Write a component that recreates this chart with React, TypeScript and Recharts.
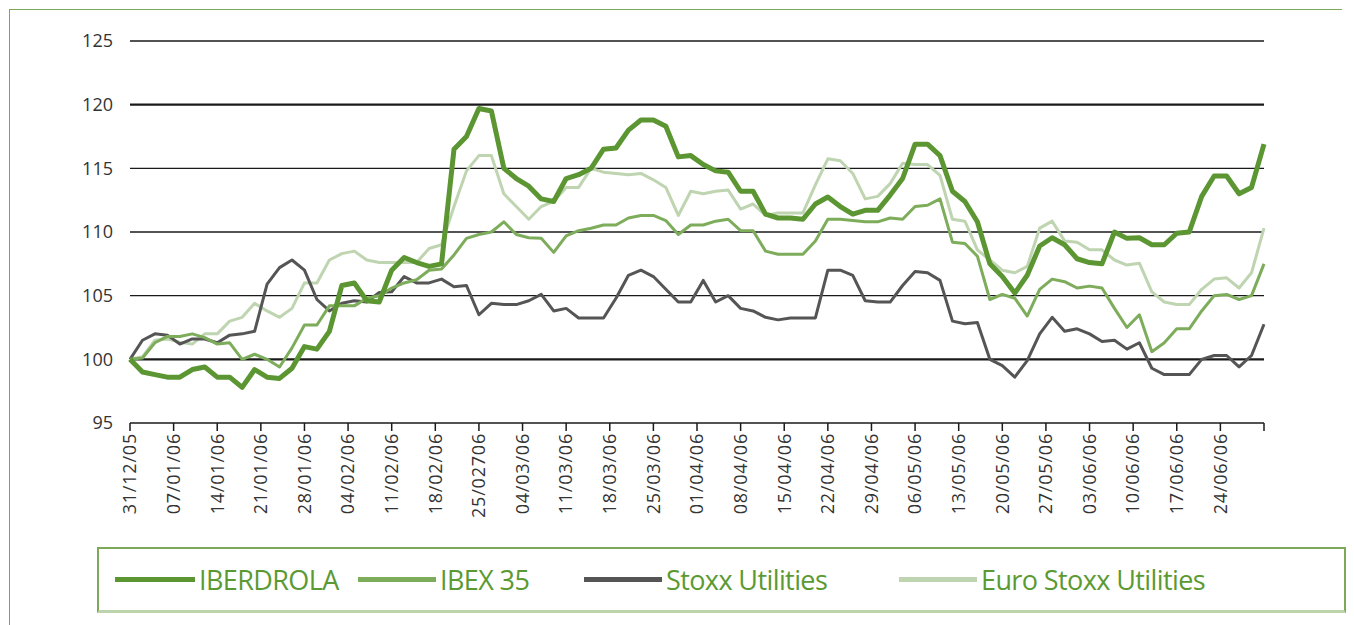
import React from 'react'
import { LineChart, Line, XAxis, YAxis, ReferenceLine } from 'recharts'

// ── Data (index 31/12/05 = 100), one value every 2 calendar days ─────────

const DAYS = [
  0, 2, 4, 6, 8, 10, 12, 14, 16, 18, 20, 22, 24, 26, 28, 30, 32, 34, 36, 38,
  40, 42, 44, 46, 48, 50, 52, 54, 56, 58, 60, 62, 64, 66, 68, 70, 72, 74, 76, 78,
  80, 82, 84, 86, 88, 90, 92, 94, 96, 98, 100, 102, 104, 106, 108, 110, 112, 114, 116, 118,
  120, 122, 124, 126, 128, 130, 132, 134, 136, 138, 140, 142, 144, 146, 148, 150, 152, 154, 156, 158,
  160, 162, 164, 166, 168, 170, 172, 174, 176, 178, 180, 182,
]

const IBERDROLA = [
  100, 99.0, 98.8, 98.6, 98.6, 99.2, 99.4, 98.6, 98.6, 97.8, 99.2, 98.6, 98.5, 99.3, 101.0, 100.8, 102.2, 105.8, 106.0, 104.6,
  104.5, 107.0, 108.0, 107.6, 107.3, 107.5, 116.5, 117.5, 119.7, 119.5, 115.0, 114.2, 113.6, 112.6, 112.4, 114.2, 114.5, 115.0, 116.5, 116.6,
  118.0, 118.8, 118.8, 118.3, 115.9, 116.0, 115.3, 114.8, 114.7, 113.2, 113.2, 111.4, 111.1, 111.1, 111.0, 112.2, 112.75, 112.0, 111.4, 111.7,
  111.7, 112.9, 114.2, 116.9, 116.9, 116.0, 113.2, 112.4, 110.8, 107.5, 106.5, 105.2, 106.6, 108.9, 109.55, 109.0, 107.9, 107.6, 107.5, 110.0,
  109.5, 109.55, 109.0, 109.0, 109.9, 110.0, 112.8, 114.4, 114.4, 113.0, 113.5, 116.9,
]

const IBEX35 = [
  100, 100.1, 101.3, 101.8, 101.8, 102.0, 101.7, 101.2, 101.3, 100.0, 100.4, 100.0, 99.4, 100.9, 102.7, 102.7, 104.2, 104.2, 104.2, 104.8,
  105.0, 105.6, 106.0, 106.25, 107.0, 107.1, 108.2, 109.5, 109.8, 110.0, 110.8, 109.8, 109.55, 109.5, 108.4, 109.7, 110.1, 110.3, 110.55, 110.55,
  111.1, 111.3, 111.3, 110.9, 109.8, 110.55, 110.55, 110.85, 111.0, 110.1, 110.1, 108.5, 108.25, 108.25, 108.25, 109.3, 111.0, 111.0, 110.9, 110.8,
  110.8, 111.1, 111.0, 112.0, 112.1, 112.6, 109.2, 109.1, 108.1, 104.7, 105.1, 104.8, 103.4, 105.5, 106.3, 106.1, 105.6, 105.75, 105.6, 104.0,
  102.5, 103.5, 100.6, 101.3, 102.4, 102.4, 103.8, 105.0, 105.1, 104.7, 105.0, 107.5,
]

const STOXX_UTILITIES = [
  100, 101.5, 102.0, 101.9, 101.2, 101.6, 101.6, 101.3, 101.9, 102.0, 102.2, 105.9, 107.2, 107.8, 107.0, 104.7, 103.8, 104.4, 104.6, 104.5,
  105.25, 105.3, 106.5, 106.0, 106.0, 106.3, 105.7, 105.8, 103.5, 104.4, 104.3, 104.3, 104.6, 105.1, 103.8, 104.0, 103.25, 103.25, 103.25, 104.8,
  106.6, 107.0, 106.5, 105.5, 104.5, 104.5, 106.2, 104.5, 105.0, 104.0, 103.8, 103.3, 103.1, 103.25, 103.25, 103.25, 107.0, 107.0, 106.6, 104.6,
  104.5, 104.5, 105.8, 106.9, 106.8, 106.2, 103.0, 102.8, 102.9, 100.0, 99.5, 98.6, 99.9, 102.0, 103.3, 102.2, 102.4, 102.0, 101.4, 101.5,
  100.8, 101.3, 99.3, 98.8, 98.8, 98.8, 100.0, 100.3, 100.3, 99.4, 100.3, 102.75,
]

const EURO_STOXX_UTILITIES = [
  100, 100.2, 101.5, 101.6, 101.35, 101.2, 102.0, 102.0, 103.0, 103.3, 104.4, 103.8, 103.3, 104.0, 106.0, 106.0, 107.8, 108.3, 108.5, 107.8,
  107.6, 107.6, 107.6, 107.6, 108.7, 109.0, 112.0, 114.8, 116.0, 116.0, 113.0, 112.0, 111.0, 112.0, 112.4, 113.5, 113.5, 115.0, 114.7, 114.6,
  114.5, 114.6, 114.1, 113.5, 111.3, 113.2, 113.0, 113.2, 113.3, 111.8, 112.2, 111.3, 111.5, 111.5, 111.5, 113.7, 115.75, 115.6, 114.6, 112.6,
  112.8, 113.8, 115.4, 115.3, 115.3, 114.45, 111.0, 110.85, 108.6, 107.8, 107.0, 106.8, 107.3, 110.3, 110.85, 109.3, 109.2, 108.6, 108.6, 107.8,
  107.4, 107.55, 105.3, 104.5, 104.3, 104.3, 105.5, 106.3, 106.4, 105.6, 106.8, 110.3,
]

const TICK_DAYS = [0, 7, 14, 21, 28, 35, 42, 49, 56, 63, 70, 77, 84, 91, 98, 105, 112, 119, 126, 133, 140, 147, 154, 161, 168, 175, 182]
const TICK_LABELS = [
  '31/12/05', '07/01/06', '14/01/06', '21/01/06', '28/01/06', '04/02/06', '11/02/06', '18/02/06', '25/02706',
  '04/03/06', '11/03/06', '18/03/06', '25/03/06', '01/04/06', '08/04/06', '15/04/06', '22/04/06', '29/04/06',
  '06/05/06', '13/05/06', '20/05/06', '27/05/06', '03/06/06', '10/06/06', '17/06/06', '24/06/06', '',
]

const Y_TICKS = [95, 100, 105, 110, 115, 120, 125]

const SERIES = [
  { key: 'iberdrola', name: 'IBERDROLA', color: '#5b9632', width: 5 },
  { key: 'ibex', name: 'IBEX 35', color: '#7dac5b', width: 3 },
  { key: 'stoxx', name: 'Stoxx Utilities', color: '#555555', width: 3 },
  { key: 'euro', name: 'Euro Stoxx Utilities', color: '#bfd4b0', width: 3 },
]

const data = DAYS.map((d, i) => ({
  day: d,
  iberdrola: IBERDROLA[i],
  ibex: IBEX35[i],
  stoxx: STOXX_UTILITIES[i],
  euro: EURO_STOXX_UTILITIES[i],
}))

const FONT = '"Open Sans", "DejaVu Sans", sans-serif'

function DateTick({ x, y, payload }: any) {
  const idx = TICK_DAYS.indexOf(payload.value)
  const label = TICK_LABELS[idx] ?? ''
  return (
    <text
      transform={`translate(${x},${y}) rotate(-90)`}
      x={0}
      y={0}
      dy="0.35em"
      textAnchor="end"
      fontSize={18}
      letterSpacing={0.8}
      fill="#333"
      fontFamily={FONT}
    >
      {label}
    </text>
  )
}

function LegendBox() {
  const lineW = [80, 78, 78, 78]
  const lefts = [113, 356, 582, 897]
  return (
    <div
      style={{
        position: 'absolute', left: 97, top: 547, width: 1249, height: 66,
        borderTop: '2px solid #7ca85a', borderLeft: '2px solid #7ca85a',
        borderRight: '2px solid #7ca85a', borderBottom: '3px solid #bcd3ac',
        boxSizing: 'border-box',
      }}
    >
      {SERIES.map((s, i) => (
        <div
          key={s.key}
          style={{
            position: 'absolute', left: lefts[i] - 97, top: 12,
            display: 'flex', alignItems: 'center', whiteSpace: 'nowrap',
          }}
        >
          <div style={{ width: lineW[i], height: 5, background: s.color, marginRight: 4 }} />
          <span style={{ fontFamily: FONT, fontSize: 27, color: '#5b9a32', letterSpacing: -0.6 }}>{s.name}</span>
        </div>
      ))}
    </div>
  )
}

export default function App() {
  return (
    <div style={{ position: 'absolute', left: 0, top: 0, width: 1354, height: 625, background: '#fff' }}>
      <div style={{ position: 'absolute', left: 9, top: 9, width: 1332, height: 620, borderTop: '1px solid #7ca85a', borderLeft: '1px solid #7ca85a' }} />
      <div style={{ position: 'absolute', left: 0, top: 0 }}>
        <LineChart width={1354} height={540} data={data} margin={{ top: 41, right: 90, left: 70, bottom: 17 }}>
          {[100, 105, 110, 115, 120, 125].map(v => (
            <ReferenceLine key={v} y={v} stroke="#1a1a1a" strokeWidth={v === 100 || v === 120 ? 2.2 : 1.3} />
          ))}
          <XAxis
            dataKey="day"
            type="number"
            domain={[0, 182]}
            ticks={TICK_DAYS}
            interval={0}
            height={100}
            tickSize={8}
            tickMargin={2}
            tick={<DateTick />}
            axisLine={{ stroke: '#1a1a1a', strokeWidth: 1.5 }}
            tickLine={{ stroke: '#1a1a1a', strokeWidth: 1.5 }}
          />
          <YAxis
            domain={[95, 125]}
            ticks={Y_TICKS}
            width={60}
            axisLine={false}
            tickLine={false}
            tickMargin={11}
            tick={{ fontSize: 18, fill: '#333', fontFamily: FONT }}
          />
          {[...SERIES].reverse().map(s => (
            <Line
              key={s.key}
              dataKey={s.key}
              name={s.name}
              type="linear"
              stroke={s.color}
              strokeWidth={s.width}
              dot={false}
              isAnimationActive={false}
              strokeLinejoin="round"
            />
          ))}
        </LineChart>
      </div>
      <LegendBox />
    </div>
  )
}
